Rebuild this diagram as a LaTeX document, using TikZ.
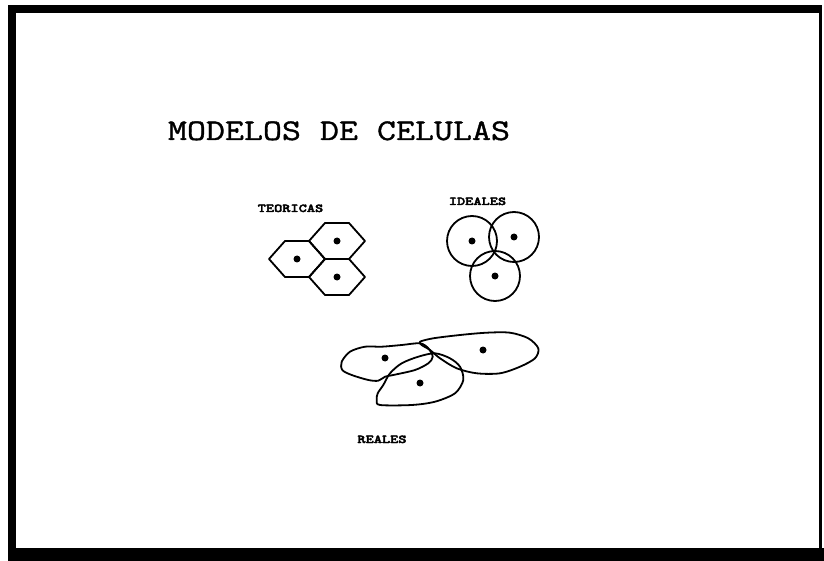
\documentclass[tikz,border=0pt]{standalone}
\usepackage{fontspec}
\newfontfamily\maquina{lmmono12-regular.otf}[FakeStretch=1.23,FakeBold=1.2]
\newfontfamily\maquinanegra{lmmonolt10-bold.otf}[FakeStretch=1.3,FakeBold=3]
\tikzset{
  nucleo/.style={circle,fill=black,inner sep=0pt,minimum size=7pt},
  celda/.style={line width=1.8pt,line join=round},
  rotulo/.style={font=\maquinanegra\fontsize{12}{13}\selectfont,anchor=base,inner sep=0pt},
  titulo/.style={font=\maquina\fontsize{30}{32}\selectfont,anchor=base,inner sep=0pt}
}
\begin{document}
\begin{tikzpicture}[x=1pt,y=-1pt]
      \useasboundingbox (0,0) rectangle (824,561);
      \fill (8,5) rectangle (822,13);
      \fill (8,5) rectangle (16,561);
      \fill (8,548) rectangle (824,561);
      \fill (819,5) rectangle (821.5,561);
      \node[titulo] (titulo) at (339,140) {MODELOS DE CELULAS};
      \node[rotulo] (teoricas) at (290.5,212) {TEORICAS};
      \node[rotulo] (ideales) at (477.5,205) {IDEALES};
      \node[rotulo] (reales) at (382,443) {REALES};
      \draw
        (297,259) node[nucleo] (t1){}
        (337,241) node[nucleo] (t2){}
        (337,277) node[nucleo] (t3){}
        (472,241) node[nucleo] (i1){}
        (514,237) node[nucleo] (i2){}
        (495,276) node[nucleo] (i3){}
        (385,358) node[nucleo] (r1){}
        (483,350) node[nucleo] (r2){}
        (420,383) node[nucleo] (r3){};
      \begin{scope}[celda]
        \foreach \c in {t1,t2,t3}
          \draw[shift={(\c.center)}] (-28,0) -- (-12,-18) -- (12,-18) -- (28,0) -- (12,18) -- (-12,18) -- cycle;
        \foreach \c in {i1,i2,i3}
          \draw (\c.center) circle[radius=25];
        \draw plot[smooth cycle] coordinates {(341.7,361.7) (350,351.7) (365,346.7) (381.7,346.7) (401.7,345) (420,343.3) (428.3,348.3) (432.7,356.7) (428.3,363.3) (415,370) (393.3,375) (385,376.7) (378.3,380.7) (368.3,380) (351.7,375) (342.3,370)};
        \draw plot[smooth cycle] coordinates {(420,341.7) (433.3,338.3) (460,335) (486.7,332.7) (510,332.7) (528.3,338.3) (538.3,348.3) (535,358.3) (520,366.7) (500,373.3) (476.7,373.3) (456.7,368.3) (440,358.3) (430,350) (421.7,345)};
        \draw plot[smooth cycle] coordinates {(376.7,400) (380,405) (411.7,405) (435,401.7) (455,393.3) (463.3,380) (460,366.7) (450,358.3) (435,353.3) (418.3,356.7) (401.7,363.3) (390,373.3) (383.3,385) (377.7,393.3)};
      \end{scope}
    \end{tikzpicture}
\end{document}
